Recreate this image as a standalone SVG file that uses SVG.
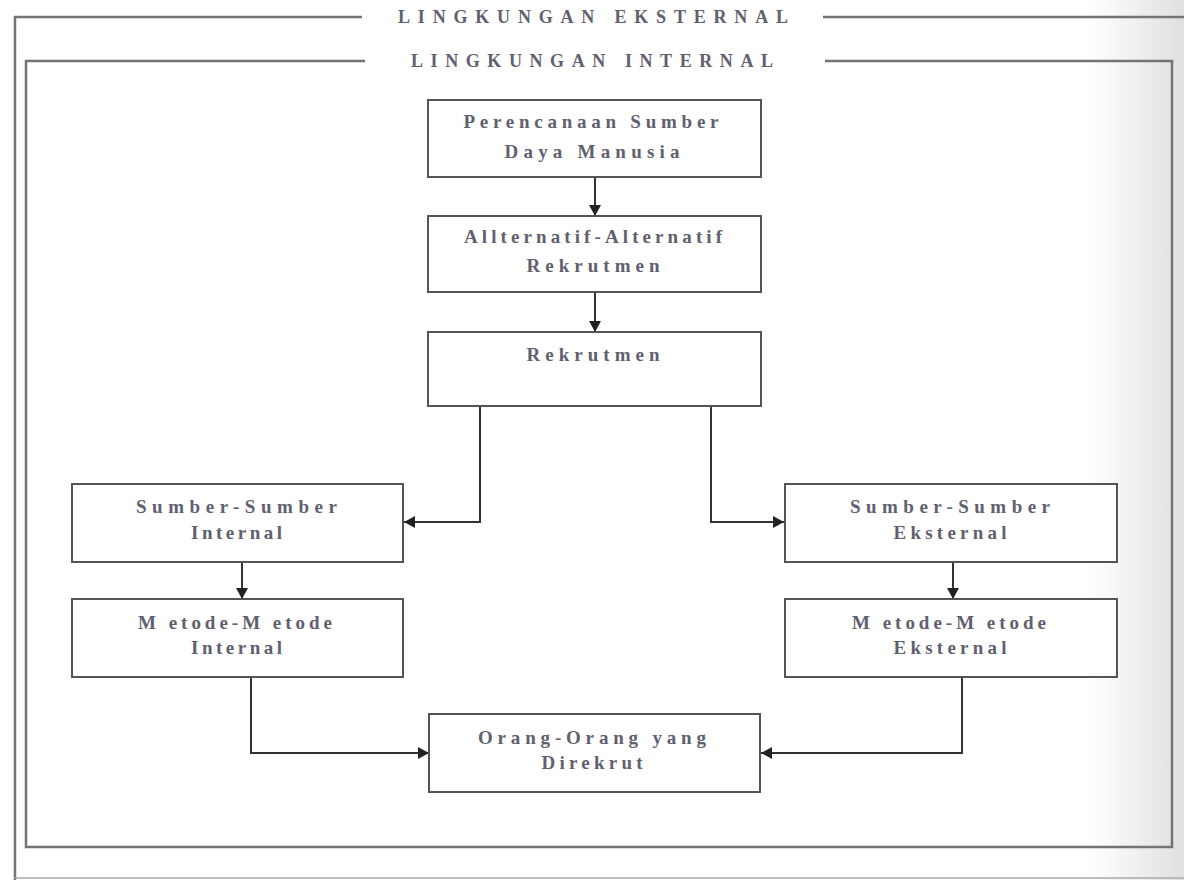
<svg xmlns="http://www.w3.org/2000/svg" width="1184" height="880" viewBox="0 0 1184 880">
<defs>
<linearGradient id="shade" x1="0" y1="0" x2="1" y2="0">
<stop offset="0" stop-color="#ffffff"/>
<stop offset="1" stop-color="#e0e0e0"/>
</linearGradient>
<marker id="arr" markerUnits="userSpaceOnUse" markerWidth="12" markerHeight="12" refX="11" refY="6" orient="auto">
<path d="M0,0 L11,6 L0,12 z" fill="#222"/>
</marker>
<style>
.frame{fill:none;stroke:#747474;stroke-width:2.5}
.box{fill:#fff;stroke:#555;stroke-width:2}
.conn{fill:none;stroke:#333;stroke-width:2;marker-end:url(#arr)}
.t{font-family:"Liberation Serif","Times New Roman",serif;font-size:19px;font-weight:bold;fill:#60606e;text-anchor:middle}
.title{font-family:"Liberation Serif","Times New Roman",serif;font-size:18px;font-weight:bold;fill:#60606e}
</style>
</defs>
<rect x="0" y="0" width="1184" height="880" fill="#fff"/>
<rect x="1090" y="0" width="94" height="880" fill="url(#shade)"/>
<g id="frames">
<path class="frame" d="M362,17 H15 V880"/>
<path class="frame" d="M823,17 H1184"/>
<path d="M15,878 H1184" stroke="#aaa" stroke-width="1.5" fill="none"/>
<path class="frame" d="M365,61 H26 V847 H1172 V61 H825"/>
<text class="title" x="398" y="23" textLength="390" lengthAdjust="spacing">LINGKUNGAN EKSTERNAL</text>
<text class="title" x="411" y="67" textLength="362" lengthAdjust="spacing">LINGKUNGAN INTERNAL</text>
</g>
<g id="connectors">
<path class="conn" d="M595,177 V216"/>
<path class="conn" d="M595,292 V332"/>
<path class="conn" d="M480,406 V522 H404"/>
<path class="conn" d="M711,406 V522 H784"/>
<path class="conn" d="M242,562 V599"/>
<path class="conn" d="M953,562 V599"/>
<path class="conn" d="M251,677 V753 H429"/>
<path class="conn" d="M962,677 V753 H761"/>
</g>
<g id="n1">
<rect class="box" x="428" y="100" width="333" height="77"/>
<text class="t" x="591" y="128" textLength="255" lengthAdjust="spacing">Perencanaan Sumber</text>
<text class="t" x="592" y="158" textLength="175" lengthAdjust="spacing">Daya Manusia</text>
</g>
<g id="n2">
<rect class="box" x="428" y="216" width="333" height="76"/>
<text class="t" x="593" y="243" textLength="258" lengthAdjust="spacing">Allternatif-Alternatif</text>
<text class="t" x="593" y="272" textLength="133" lengthAdjust="spacing">Rekrutmen</text>
</g>
<g id="n3">
<rect class="box" x="428" y="332" width="333" height="74"/>
<text class="t" x="593" y="361" textLength="133" lengthAdjust="spacing">Rekrutmen</text>
</g>
<g id="n4">
<rect class="box" x="72" y="484" width="331" height="78"/>
<text class="t" x="236.5" y="513" textLength="201" lengthAdjust="spacing">Sumber-Sumber</text>
<text class="t" x="236.5" y="539" textLength="91" lengthAdjust="spacing">Internal</text>
</g>
<g id="n5">
<rect class="box" x="785" y="484" width="332" height="78"/>
<text class="t" x="950" y="513" textLength="200" lengthAdjust="spacing">Sumber-Sumber</text>
<text class="t" x="950" y="539" textLength="113" lengthAdjust="spacing">Eksternal</text>
</g>
<g id="n6">
<rect class="box" x="72" y="599" width="331" height="78"/>
<text class="t" x="235" y="629" textLength="194" lengthAdjust="spacing">M etode-M etode</text>
<text class="t" x="236.5" y="654" textLength="91" lengthAdjust="spacing">Internal</text>
</g>
<g id="n7">
<rect class="box" x="785" y="599" width="332" height="78"/>
<text class="t" x="949" y="629" textLength="194" lengthAdjust="spacing">M etode-M etode</text>
<text class="t" x="950" y="654" textLength="113" lengthAdjust="spacing">Eksternal</text>
</g>
<g id="n8">
<rect class="box" x="429" y="714" width="331" height="78"/>
<text class="t" x="592" y="744" textLength="228" lengthAdjust="spacing">Orang-Orang yang</text>
<text class="t" x="592" y="769" textLength="101" lengthAdjust="spacing">Direkrut</text>
</g>
</svg>
